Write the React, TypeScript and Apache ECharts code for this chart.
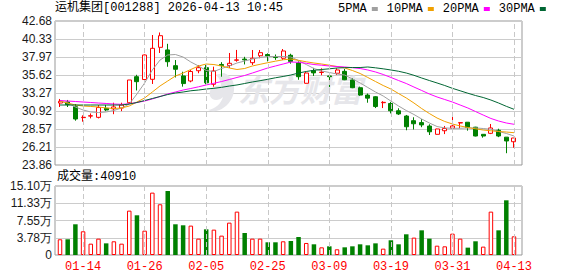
import React, { useEffect, useRef } from 'react';
import * as echarts from 'echarts';

const dates = [
  '01-09', '01-12', '01-13', '01-14', '01-15', '01-16', '01-19', '01-20', '01-21', '01-22',
  '01-23', '01-26', '01-27', '01-28', '01-29', '01-30', '02-02', '02-03', '02-04', '02-05',
  '02-06', '02-09', '02-10', '02-11', '02-12', '02-13', '02-24', '02-25', '02-26', '02-27',
  '03-02', '03-03', '03-04', '03-05', '03-06', '03-09', '03-10', '03-11', '03-12', '03-13',
  '03-16', '03-17', '03-18', '03-19', '03-20', '03-23', '03-24', '03-25', '03-26', '03-27',
  '03-30', '03-31', '04-01', '04-02', '04-03', '04-07', '04-08', '04-09', '04-10', '04-13',
];

const opens = [
  31.96, 32.10, 31.48, 30.05, 30.25, 30.09, 31.27, 31.20, 31.30, 32.00,
  35.40, 35.03, 35.06, 39.24, 38.90, 36.84, 35.50, 34.84, 36.18, 36.58,
  34.41, 37.00, 36.87, 37.55, 37.70, 37.23, 38.14, 38.30, 37.95, 37.81,
  38.20, 37.20, 34.54, 36.20, 35.95, 35.50, 35.85, 36.10, 34.97, 33.96,
  33.00, 32.78, 32.00, 31.90, 30.95, 30.26, 29.65, 29.40, 28.95, 27.87,
  28.34, 28.66, 29.35, 29.45, 28.80, 27.87, 28.00, 28.40, 27.50, 26.90,
];
const closes = [
  32.19, 31.75, 29.87, 30.10, 30.30, 31.37, 31.05, 31.45, 31.70, 34.97,
  34.75, 38.24, 39.11, 40.76, 37.36, 36.37, 34.50, 36.08, 36.58, 34.60,
  36.15, 36.85, 37.15, 37.60, 37.60, 37.81, 38.54, 38.10, 37.90, 38.76,
  37.40, 35.40, 35.88, 35.90, 36.00, 35.40, 36.28, 35.00, 33.96, 33.00,
  32.60, 31.50, 32.05, 30.95, 30.53, 28.86, 29.25, 29.10, 28.20, 28.57,
  28.63, 28.96, 29.40, 28.75, 27.65, 27.65, 28.70, 27.65, 27.00, 27.39,
];
const lows = [
  31.44, 31.44, 29.65, 29.52, 29.95, 29.95, 30.90, 30.50, 30.90, 31.83,
  33.60, 34.54, 34.45, 38.50, 36.70, 35.30, 34.10, 34.67, 35.85, 34.40,
  34.09, 35.40, 36.54, 37.36, 37.00, 36.93, 37.81, 37.40, 37.60, 37.58,
  37.10, 35.00, 34.50, 35.50, 35.60, 34.05, 35.62, 34.95, 33.90, 32.90,
  32.00, 31.30, 31.30, 30.60, 30.40, 28.40, 28.50, 28.80, 27.78, 27.85,
  27.90, 28.66, 28.66, 28.35, 27.60, 27.43, 27.90, 27.50, 25.40, 26.12,
];
const highs = [
  32.49, 32.36, 31.83, 30.35, 30.60, 31.70, 31.70, 32.00, 32.00, 34.97,
  35.65, 38.30, 40.85, 41.18, 39.70, 37.58, 36.05, 36.28, 36.93, 36.93,
  36.71, 37.30, 38.50, 38.90, 38.00, 38.89, 38.89, 38.45, 38.30, 39.02,
  38.40, 37.40, 36.05, 36.55, 36.50, 35.60, 36.50, 36.40, 35.20, 34.10,
  33.20, 32.85, 32.20, 32.10, 31.27, 30.40, 30.10, 29.85, 29.18, 28.60,
  28.96, 30.13, 29.40, 29.45, 28.85, 27.87, 29.22, 28.60, 27.50, 27.39,
];

// volume in 万
const volumes = [
  3.44, 3.44, 6.72, 5.19, 2.48, 3.58, 2.55, 3.00, 2.48, 9.71,
  8.69, 5.33, 13.65, 11.10, 14.00, 6.72, 6.50, 6.43, 3.58, 5.62,
  5.55, 4.24, 7.08, 9.49, 4.82, 3.58, 3.58, 2.78, 2.78, 3.00,
  3.07, 3.94, 2.63, 2.34, 1.68, 1.90, 1.25, 1.68, 1.90, 2.34,
  2.12, 2.55, 1.39, 3.22, 2.34, 4.53, 3.80, 5.40, 3.58, 2.04,
  1.90, 4.67, 3.58, 1.61, 3.00, 1.83, 9.49, 5.40, 11.97, 4.09,
];
// 1 = red (up) hollow bar, 0 = green solid bar
const volUp = [
  1, 0, 0, 1, 1, 1, 0, 1, 1, 1,
  0, 1, 1, 1, 0, 0, 0, 1, 1, 0,
  1, 1, 1, 1, 0, 1, 1, 0, 0, 1,
  0, 0, 1, 0, 1, 0, 1, 0, 0, 0,
  0, 0, 1, 0, 0, 0, 1, 0, 0, 1,
  1, 1, 1, 0, 0, 1, 1, 0, 0, 1,
];

const ma5 = [
  32.22, 31.96, 31.44, 31.05, 30.79, 30.72, 30.79, 30.98, 31.31, 31.83,
  33.14, 34.58, 36.28, 37.58, 38.24, 38.30, 37.97, 37.32, 36.80, 36.21,
  36.08, 36.47, 36.80, 37.19, 37.45, 37.71, 37.91, 38.04, 38.04, 38.04,
  37.97, 37.52, 36.99, 36.47, 36.15, 35.95, 35.75, 35.62, 35.10, 34.58,
  33.99, 33.40, 32.88, 32.22, 31.57, 30.98, 30.46, 29.87, 29.35, 28.89,
  28.70, 28.66, 28.66, 28.70, 28.70, 28.63, 28.53, 28.24, 27.98, 27.65,
];
const ma10 = [
  32.22, 31.96, 31.70, 31.57, 31.51, 31.44, 31.31, 31.25, 31.31, 31.57,
  32.09, 32.62, 33.40, 34.19, 34.84, 35.49, 35.88, 36.34, 36.80, 37.06,
  36.99, 36.80, 36.54, 36.34, 36.47, 36.80, 37.02, 37.23, 37.43, 37.61,
  37.71, 37.54, 37.35, 37.19, 37.06, 36.90, 36.73, 36.54, 36.21, 35.82,
  35.30, 34.77, 34.25, 33.79, 33.20, 32.62, 31.96, 31.24, 30.59, 30.00,
  29.55, 29.22, 28.96, 28.76, 28.59, 28.43, 28.33, 28.24, 28.17, 28.08,
];
const ma20 = [
  32.29, 32.22, 32.16, 32.09, 32.03, 31.96, 31.90, 31.83, 31.79, 31.86,
  32.03, 32.22, 32.49, 32.81, 33.14, 33.40, 33.66, 33.86, 34.08, 34.32,
  34.54, 34.77, 35.03, 35.30, 35.56, 35.88, 36.21, 36.54, 36.80, 37.06,
  37.32, 37.28, 37.15, 36.99, 36.90, 36.80, 36.73, 36.67, 36.58, 36.47,
  36.28, 36.02, 35.69, 35.30, 34.90, 34.51, 34.05, 33.60, 33.14, 32.75,
  32.42, 32.09, 31.70, 31.31, 30.85, 30.39, 29.94, 29.61, 29.35, 29.18,
];
const ma30 = [
  31.70, 31.70, 31.70, 31.70, 31.70, 31.70, 31.70, 31.70, 31.70, 31.83,
  32.03, 32.29, 32.55, 32.81, 33.07, 33.27, 33.40, 33.56, 33.66, 33.79,
  33.88, 34.01, 34.18, 34.32, 34.51, 34.71, 34.88, 35.06, 35.26, 35.43,
  35.62, 35.88, 36.08, 36.24, 36.34, 36.43, 36.54, 36.58, 36.60, 36.60,
  36.67, 36.56, 36.43, 36.28, 36.11, 35.88, 35.58, 35.23, 34.90, 34.58,
  34.25, 33.88, 33.56, 33.24, 32.94, 32.68, 32.35, 31.96, 31.53, 31.14,
];

const priceMin = 23.86;
const priceMax = 42.68;
const volMax = 15.1;
const priceTicks = ['23.86', '26.21', '28.57', '30.92', '33.27', '35.62', '37.97', '40.33', '42.68'];
const volTicks = ['0', '3.78万', '7.55万', '11.33万', '15.10万'];
const labelIdx = [3, 11, 19, 27, 35, 43, 51, 59];

const maNames = ['5PMA', '10PMA', '20PMA', '30PMA'];
const maColors = ['#a0a0a0', '#f0a000', '#ff00ff', '#006633'];
const maData = [ma5, ma10, ma20, ma30];

const MONO = '"Liberation Mono", "Noto Sans CJK SC", monospace';
const SANS = '"Liberation Sans", Arial, sans-serif';
const RED = '#ff0000';
const GREEN = '#008000';

const LOGO_D =
  'M18 0 C27 3 31 14 26 25 C21 35 10 41 2 37 C9 36 15 31 17 24 C13 28 6 28 4 23 C2 17 8 11 15 13 C15 8 13 4 9 2 Z';
echarts.graphic.registerShape('emLogo', echarts.graphic.extendPath(LOGO_D, {}) as any);

// dashed vertical grid lines at the labelled dates
const vLines = {
  symbol: ['none', 'none'],
  label: { show: false },
  emphasis: { disabled: true },
  lineStyle: { color: '#c8c8c8', width: 1, type: [5, 3] },
  data: labelIdx.map((i) => ({ xAxis: i })),
};

export default function App() {
  const ref = useRef<HTMLDivElement>(null);

  useEffect(() => {
    if (!ref.current) return;
    const chart = echarts.init(ref.current, undefined, { renderer: 'svg' });

    const xCommon = {
      type: 'value' as const,
      min: -0.65,
      max: 60.04,
      axisLine: { show: false },
      axisTick: { show: false },
      splitLine: { show: false },
    };

    const option: any = {
      animation: false,
      backgroundColor: '#ffffff',
      title: [
        {
          text: '运机集团[001288] 2026-04-13 10:45',
          left: 55,
          top: 2,
          padding: 0,
          textStyle: { fontSize: 12, fontWeight: 'normal', fontFamily: MONO, color: '#000' },
        },
        {
          text: '成交量:40910',
          left: 57,
          top: 171,
          padding: 0,
          textStyle: { fontSize: 12, fontWeight: 'normal', fontFamily: MONO, color: '#000' },
        },
      ],
      legend: {
        data: maNames,
        left: 338,
        top: 3,
        padding: 0,
        align: 'right',
        icon: 'rect',
        itemWidth: 6,
        itemHeight: 4,
        itemGap: 9,
        selectedMode: false,
        textStyle: { fontSize: 12, fontFamily: MONO, color: '#000' },
      },
      grid: [
        { left: 55, top: 21, width: 467, height: 144, show: true, borderColor: '#999999', borderWidth: 1 },
        { left: 55, top: 186, width: 467, height: 69, show: true, borderColor: '#999999', borderWidth: 1 },
      ],
      xAxis: [
        { ...xCommon, gridIndex: 0, axisLabel: { show: false } },
        {
          ...xCommon,
          gridIndex: 1,
          axisLabel: {
            show: true,
            customValues: labelIdx,
            margin: 6,
            color: RED,
            fontSize: 12,
            fontFamily: MONO,
            formatter: (v: number) => dates[Math.round(v)] ?? '',
          },
        },
      ],
      yAxis: [
        { type: 'value', gridIndex: 0, min: priceMin, max: priceMax, show: false },
        {
          type: 'value',
          gridIndex: 0,
          min: 0,
          max: 8,
          interval: 1,
          position: 'left',
          axisLine: { show: false },
          axisTick: { show: false },
          axisLabel: {
            margin: 3,
            color: '#1a1a1a',
            fontSize: 12,
            fontFamily: SANS,
            formatter: (v: number) => priceTicks[Math.round(v)] ?? '',
          },
          splitLine: { show: true, lineStyle: { color: '#cccccc', width: 1 } },
        },
        {
          type: 'value',
          gridIndex: 1,
          min: 0,
          max: volMax,
          interval: 3.775,
          axisLine: { show: false },
          axisTick: { show: false },
          axisLabel: {
            margin: 3,
            color: '#1a1a1a',
            fontSize: 12,
            fontFamily: SANS,
            formatter: (v: number, i: number) => volTicks[i] ?? '',
          },
          splitLine: { show: true, lineStyle: { color: '#cccccc', width: 1 } },
        },
      ],
      graphic: [
        {
          type: 'emLogo',
          x: 206,
          y: 73,
          scaleX: 1,
          scaleY: 1,
          z: 1,
          style: { fill: '#e6e6ea' },
        },
        {
          type: 'text',
          left: 238,
          top: 73,
          z: 1,
          style: {
            text: '东方财富',
            font: 'italic bold 31px "Noto Sans CJK SC"',
            fill: '#e6e6ea',
          },
        },
      ],
      series: [
        {
          type: 'candlestick',
          xAxisIndex: 0,
          yAxisIndex: 0,
          barWidth: 4.5,
          z: 3,
          data: dates.map((_, i) => [i, opens[i], closes[i], lows[i], highs[i]]),
          itemStyle: {
            color: '#ffffff',
            color0: GREEN,
            borderColor: RED,
            borderColor0: GREEN,
            borderWidth: 1,
          },
        },
        ...maNames.map((name, k) => ({
          name,
          type: 'line',
          xAxisIndex: 0,
          yAxisIndex: 0,
          showSymbol: false,
          symbol: 'none',
          z: 4,
          color: maColors[k],
          lineStyle: { width: 1, color: maColors[k] },
          data: maData[k].map((v, i) => [i, v]),
          ...(k === 0 ? { markLine: vLines } : {}),
        })),
        {
          type: 'bar',
          xAxisIndex: 1,
          yAxisIndex: 2,
          barWidth: 4.5,
          z: 3,
          data: volumes.map((v, i) => ({
            value: [i, v],
            itemStyle: volUp[i]
              ? { color: '#ffffff', borderColor: RED, borderWidth: 1 }
              : { color: GREEN, borderWidth: 0 },
          })),
          markLine: vLines,
        },
      ],
    };

    chart.setOption(option);
    return () => chart.dispose();
  }, []);

  return (
    <div
      ref={ref}
      style={{ position: 'fixed', left: 0, top: 0, width: 578, height: 276, background: '#fff' }}
    />
  );
}
